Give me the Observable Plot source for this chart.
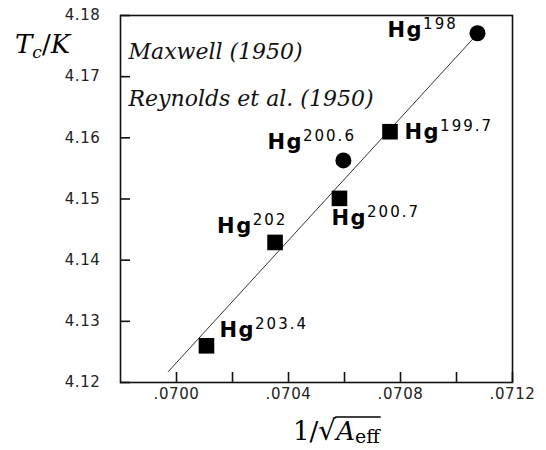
<!DOCTYPE html>
<html><head><meta charset="utf-8">
<script src="https://cdn.jsdelivr.net/npm/d3@7"></script>
<script src="https://cdn.jsdelivr.net/npm/@observablehq/plot@0.6"></script>
<style>
body{margin:0;background:#fff;}
g[aria-label$="tick label"] text{letter-spacing:0.6px;font-size:15px;fill:#222;}
g[aria-description^="Hg-"] text{letter-spacing:1.5px;}
</style></head><body><div id="chart"></div>
<script>
// ---- data ----
const isotopes = ["198", "199.7", "200.6", "200.7", "202", "203.4"];
const invSqrtA = [0.071075, 0.0707625, 0.070596, 0.070582, 0.070352, 0.070107];
const tc = [4.1771, 4.1610, 4.1563, 4.1501, 4.1429, 4.1260];
const source = ["Maxwell", "Reynolds", "Maxwell", "Reynolds", "Reynolds", "Reynolds"];
const fitX = [0.069971, 0.071089];
const fitY = [4.1218, 4.1777];
const xTicks = [0.0700, 0.0702, 0.0704, 0.0706, 0.0708, 0.0710, 0.0712];
const xTickLabels = [".0700", "", ".0704", "", ".0708", "", ".0712"];
const yTicks = [4.12, 4.13, 4.14, 4.15, 4.16, 4.17, 4.18];
const yTickLabels = ["4.12", "4.13", "4.14", "4.15", "4.16", "4.17", "4.18"];
const sourceTexts = ["Maxwell (1950)", "Reynolds et al. (1950)"];

// ---- layout (label offsets in px) ----
const labelDx = [-90, 14.5, -76, -8, -58, 13];
const labelDy = [4, 7, -11, 27, -9, -8.5];

const points = isotopes.map((iso, i) => ({iso, x: invSqrtA[i], y: tc[i], source: source[i]}));
const fit = fitX.map((x, i) => ({x, y: fitY[i]}));
const lookup = (ticks, labels) => d => labels[ticks.findIndex(t => Math.abs(t - d) < 1e-9)] ?? "";

const labelMarks = points.map((p, i) => Plot.text([p], {
  x: "x", y: "y", text: () => "Hg",
  textAnchor: "start", lineAnchor: "bottom",
  dx: labelDx[i], dy: labelDy[i],
  fontFamily: "DejaVu Sans", fontWeight: "bold", fontSize: 21, fill: "#000",
  ariaDescription: "Hg-" + p.iso
}));

const plot = Plot.plot({
  width: 546, height: 450,
  marginLeft: 120, marginRight: 34, marginTop: 15, marginBottom: 68,
  style: {fontFamily: "DejaVu Sans", fontSize: "15px", background: "#fff", color: "#000"},
  x: {domain: [0.0698, 0.0712]},
  y: {domain: [4.12, 4.18]},
  marks: [
    Plot.frame({stroke: "#111", strokeWidth: 1.6}),
    Plot.axisX({ticks: xTicks, tickFormat: lookup(xTicks, xTickLabels), tickSize: -10, tickPadding: 16,
      fontSize: 15, fill: "#222", stroke: "#111", strokeWidth: 1.6, label: null}),
    Plot.axisY({ticks: yTicks, tickFormat: lookup(yTicks, yTickLabels), tickSize: -10, tickPadding: 30,
      fontSize: 15, fill: "#222", stroke: "#111", strokeWidth: 1.6, label: null}),
    Plot.line(fit, {x: "x", y: "y", stroke: "#333", strokeWidth: 1}),
    Plot.dot(points.filter(d => d.source === "Maxwell"), {x: "x", y: "y", r: 8, fill: "#000", symbol: "circle"}),
    Plot.dot(points.filter(d => d.source === "Reynolds"), {x: "x", y: "y", r: 8.8, fill: "#000", symbol: "square"}),
    ...labelMarks,
    Plot.text([sourceTexts[0]], {frameAnchor: "top-left", dx: 8, dy: 43, lineAnchor: "bottom", textAnchor: "start",
      fontFamily: "DejaVu Serif", fontStyle: "italic", fontSize: 22, fill: "#111"}),
    Plot.text([sourceTexts[1]], {frameAnchor: "top-left", dx: 8, dy: 90, lineAnchor: "bottom", textAnchor: "start",
      fontFamily: "DejaVu Serif", fontStyle: "italic", fontSize: 22, fill: "#111"})
  ]
});
document.getElementById("chart").append(plot);

const svg = d3.select(plot);
// superscripts
svg.selectAll('g[aria-description^="Hg-"]').each(function() {
  const iso = this.getAttribute("aria-description").slice(3);
  d3.select(this).selectAll("text").append("tspan")
    .attr("dy", -8).attr("font-size", 15).attr("font-weight", "normal")
    .attr("letter-spacing", 2).text(iso);
});
// y axis title  T_c / K
const yt = svg.append("text").attr("x", 15).attr("y", 53).attr("text-anchor", "start")
  .attr("font-family", "DejaVu Serif").attr("font-size", 26).attr("fill", "#000");
yt.append("tspan").attr("font-style", "italic").text("T");
yt.append("tspan").attr("font-style", "italic").attr("font-size", 17).attr("dy", 5).text("c");
yt.append("tspan").attr("dy", -5).text("/");
yt.append("tspan").attr("font-style", "italic").text("K");
// x axis title 1/sqrt(A_eff)
const xt = svg.append("text").attr("x", 293).attr("y", 440).attr("text-anchor", "start")
  .attr("font-family", "DejaVu Serif").attr("font-size", 26).attr("fill", "#000");
xt.append("tspan").text("1/");
xt.append("tspan").attr("font-size", 28).text("√");
xt.append("tspan").attr("font-style", "italic").text("A");
xt.append("tspan").attr("font-size", 19).attr("dy", 3).text("eff");
const node = xt.node();
const n = node.getNumberOfChars();
const x0 = node.getStartPositionOfChar(3).x - 1;
const x1 = node.getEndPositionOfChar(n - 1).x + 1;
svg.append("line").attr("x1", x0).attr("x2", x1).attr("y1", 417).attr("y2", 417)
  .attr("stroke", "#000").attr("stroke-width", 1.5);
</script></body></html>
